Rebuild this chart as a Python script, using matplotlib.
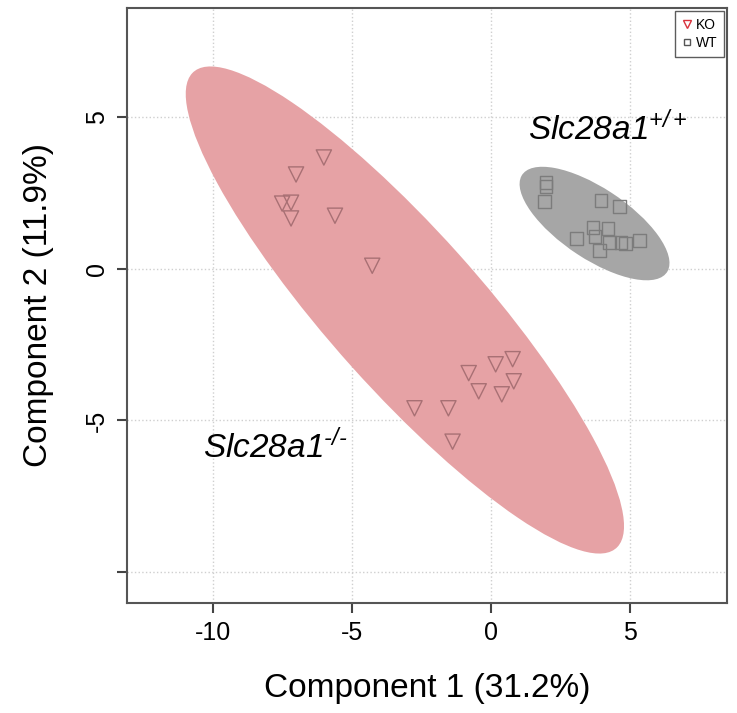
import numpy as np
import matplotlib.pyplot as plt
from matplotlib.patches import Ellipse

plt.rcParams['font.family'] = ['Liberation Sans', 'DejaVu Sans']
plt.rcParams['axes.unicode_minus'] = False
plt.rcParams['mathtext.fontset'] = 'custom'
plt.rcParams['mathtext.it'] = 'Liberation Sans:italic'
plt.rcParams['mathtext.rm'] = 'Liberation Sans:italic'

# PCA scores
ko_x = [-6.0, -7.0, -7.5, -7.18, -7.18, -5.6, -4.26, 0.79, 0.18, -0.79,
        0.83, -0.43, 0.40, -2.74, -1.52, -1.37]
ko_y = [3.67, 3.11, 2.15, 2.18, 1.66, 1.75, 0.10, -2.98, -3.15, -3.44,
        -3.71, -4.04, -4.14, -4.60, -4.60, -5.70]
wt_x = [1.99, 1.99, 1.95, 3.97, 4.62, 3.68, 4.22, 3.75, 3.10, 4.26,
        4.69, 4.84, 5.34, 3.90]
wt_y = [2.85, 2.72, 2.22, 2.25, 2.05, 1.36, 1.32, 1.06, 0.99, 0.86,
        0.86, 0.83, 0.93, 0.60]

groups = ['KO', 'WT']
x_ticks = [-10, -5, 0, 5]
x_ticklabels = ['-10', '-5', '0', '5']
y_ticks = [-10, -5, 0, 5]
y_ticklabels = ['', '-5', '0', '5']


def conf_ellipse(x, y, level=0.95, **kw):
    x = np.asarray(x)
    y = np.asarray(y)
    cov = np.cov(x, y)
    vals, vecs = np.linalg.eigh(cov)
    order = vals.argsort()[::-1]
    vals, vecs = vals[order], vecs[:, order]
    t = np.sqrt(-2 * np.log(1 - level))  # chi2 quantile, 2 df
    angle = np.degrees(np.arctan2(vecs[1, 0], vecs[0, 0]))
    return Ellipse((x.mean(), y.mean()), 2 * t * np.sqrt(vals[0]),
                   2 * t * np.sqrt(vals[1]), angle=angle, **kw)


fig = plt.figure(figsize=(7.37, 7.13), dpi=100)
ax = fig.add_axes([127 / 737, 1 - 603 / 713, 600 / 737, 595 / 713])

ax.add_patch(conf_ellipse(ko_x, ko_y, facecolor='#e6a2a5', edgecolor='none', zorder=1))
ax.add_patch(conf_ellipse(wt_x, wt_y, facecolor='#a6a6a6', edgecolor='none', zorder=1))

ax.scatter(ko_x, ko_y, marker='v', s=120, facecolor='none', edgecolor='#a87074',
           linewidth=1.0, zorder=3)
ax.scatter(wt_x, wt_y, marker='s', s=85, facecolor='none', edgecolor='#7c7c7c',
           linewidth=1.0, zorder=3)

ax.text(1.35, 4.24, '$Slc28a1^{+/+}$', fontsize=24, ha='left', va='baseline')
ax.text(-10.34, -6.22, '$Slc28a1^{\u2010/\u2010}$', fontsize=24, ha='left', va='baseline')

ax.set_xlim(-13.08, 8.5)
ax.set_ylim(-11.02, 8.6)
ax.set_xticks(x_ticks)
ax.set_xticklabels(x_ticklabels)
ax.set_yticks(y_ticks)
ax.set_yticklabels(y_ticklabels, rotation=90, va='center')
ax.tick_params(labelsize=18, length=7, width=1.5, color='#444444', pad=6)
ax.grid(True, linestyle=':', color='#cfcfcf', linewidth=1.0)
ax.set_axisbelow(True)
for sp in ax.spines.values():
    sp.set_color('#555555')
    sp.set_linewidth(1.5)

ax.set_xlabel('Component 1 (31.2%)', fontsize=24, labelpad=20)
ax.set_ylabel('Component 2 (11.9%)', fontsize=24, labelpad=22)

h_ko = plt.Line2D([], [], marker='v', ls='none', mfc='none', mec='#d9323c', ms=6, label=groups[0])
h_wt = plt.Line2D([], [], marker='s', ls='none', mfc='none', mec='#555555', ms=5, label=groups[1])
leg = ax.legend(handles=[h_ko, h_wt], loc='upper right', bbox_to_anchor=(1.0, 1.0),
                fontsize=10, frameon=True, fancybox=False, borderaxespad=0.2,
                handletextpad=0.2, handlelength=0.8, borderpad=0.5, labelspacing=0.3)
leg.get_frame().set_edgecolor('#333333')
leg.get_frame().set_linewidth(1.0)

fig.savefig('out.png', dpi=100)
